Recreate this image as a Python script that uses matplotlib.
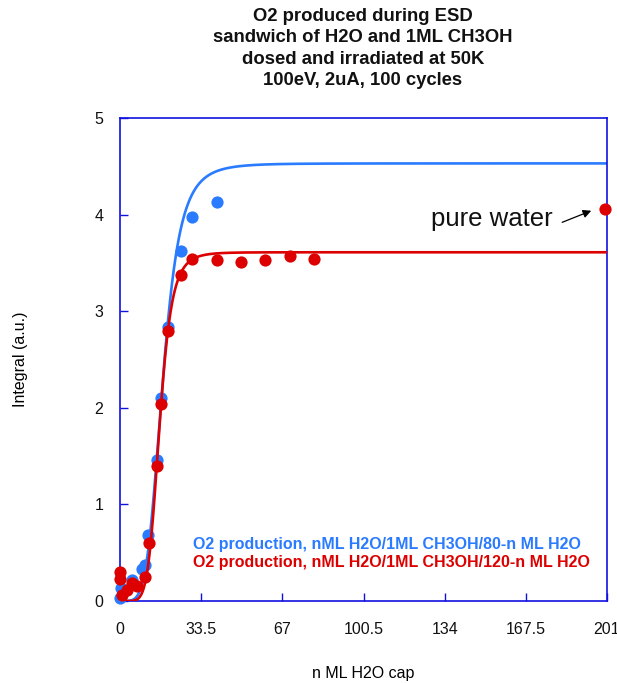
import numpy as np
import matplotlib
matplotlib.use("Agg")
import matplotlib.pyplot as plt

plt.rcParams['font.family'] = ['Liberation Sans', 'DejaVu Sans']

# Measured O2 integrals vs. water cap thickness (ML)
blue_x = [0, 0.4, 5, 9, 10.3, 11.5, 15.2, 16.9, 19.8, 25.1, 29.8, 40]
blue_y = [0.03, 0.13, 0.22, 0.33, 0.37, 0.68, 1.46, 2.10, 2.84, 3.62, 3.97, 4.13]

red_x = [0, 0, 0.8, 2.9, 5, 7, 10.3, 12, 15.2, 17, 19.8, 25.1, 29.8, 40, 50, 60, 70, 80]
red_y = [0.30, 0.23, 0.06, 0.11, 0.19, 0.16, 0.25, 0.60, 1.40, 2.04, 2.80, 3.37, 3.54,
         3.53, 3.51, 3.53, 3.57, 3.54]

pure_water_x = [200]
pure_water_y = [4.06]

# Hill-type fit parameters: plateau, half-rise thickness, steepness
blue_fit = (4.53, 17.6, 4.9)
red_fit = (3.61, 16.3, 6.4)

xticks = [0, 33.5, 67, 100.5, 134, 167.5, 201]
xtick_labels = ['0', '33.5', '67', '100.5', '134', '167.5', '201']
yticks = [0, 1, 2, 3, 4, 5]

title_lines = ["O2 produced during ESD",
               "sandwich of H2O and 1ML CH3OH",
               "dosed and irradiated at 50K",
               "100eV, 2uA, 100 cycles"]
blue_label = "O2 production, nML H2O/1ML CH3OH/80-n ML H2O"
red_label = "O2 production, nML H2O/1ML CH3OH/120-n ML H2O"

BLUE = '#2a7bff'
RED = '#dd0000'
AXIS = '#1010e0'


def hill(x, a, k, n):
    return a * x**n / (x**n + k**n)


fig = plt.figure(figsize=(6.17, 6.83), dpi=100)
ax = fig.add_axes([120/617, 1 - 601/683, 487/617, 483/683])

xs = np.linspace(0, 201, 800)
ax.plot(xs, hill(xs, *blue_fit), color=BLUE, lw=1.9, zorder=2)
ax.plot(blue_x, blue_y, 'o', color=BLUE, ms=8.8, mew=0, clip_on=False, zorder=3)
ax.plot(xs, hill(xs, *red_fit), color=RED, lw=1.9, zorder=4)
ax.plot(red_x, red_y, 'o', color=RED, ms=8.8, mew=0, clip_on=False, zorder=5)
ax.plot(pure_water_x, pure_water_y, 'o', color=RED, ms=8.8, mew=0, clip_on=False, zorder=5)

ax.set_xlim(0, 201)
ax.set_ylim(0, 5)
ax.set_xticks(xticks)
ax.set_xticklabels(xtick_labels)
ax.set_yticks(yticks)

for s in ax.spines.values():
    s.set_color(AXIS)
    s.set_linewidth(1.2)
ax.tick_params(direction='in', color=AXIS, length=6, width=1, labelsize=11.5,
               labelcolor='#111111')
ax.tick_params(axis='x', pad=15)
ax.tick_params(axis='y', pad=12)

ax.set_xlabel("n ML H2O cap", fontsize=11.5, labelpad=21)
ax.set_ylabel("Integral (a.u.)", fontsize=11.5, labelpad=48)

ax.text(178.7, 3.95, "pure water", fontsize=18.5, ha='right', va='center',
        color='#111111')
ax.annotate("", xy=(194.5, 4.04), xytext=(182.5, 3.92),
            arrowprops=dict(arrowstyle='-|>', color='black', lw=0.9,
                            mutation_scale=12, shrinkA=0, shrinkB=0))

ax.text(0.15, 0.116, blue_label, transform=ax.transAxes, color=BLUE,
        fontsize=11.5, fontweight='bold', va='center', ha='left')
ax.text(0.15, 0.079, red_label, transform=ax.transAxes, color=RED,
        fontsize=11.5, fontweight='bold', va='center', ha='left')

fig.text(363/617, 1 - 8/683, "\n".join(title_lines), ha='center', va='top',
         fontsize=13.3, fontweight='bold', linespacing=1.33, color='#111111')

fig.savefig("out.png", dpi=100)
